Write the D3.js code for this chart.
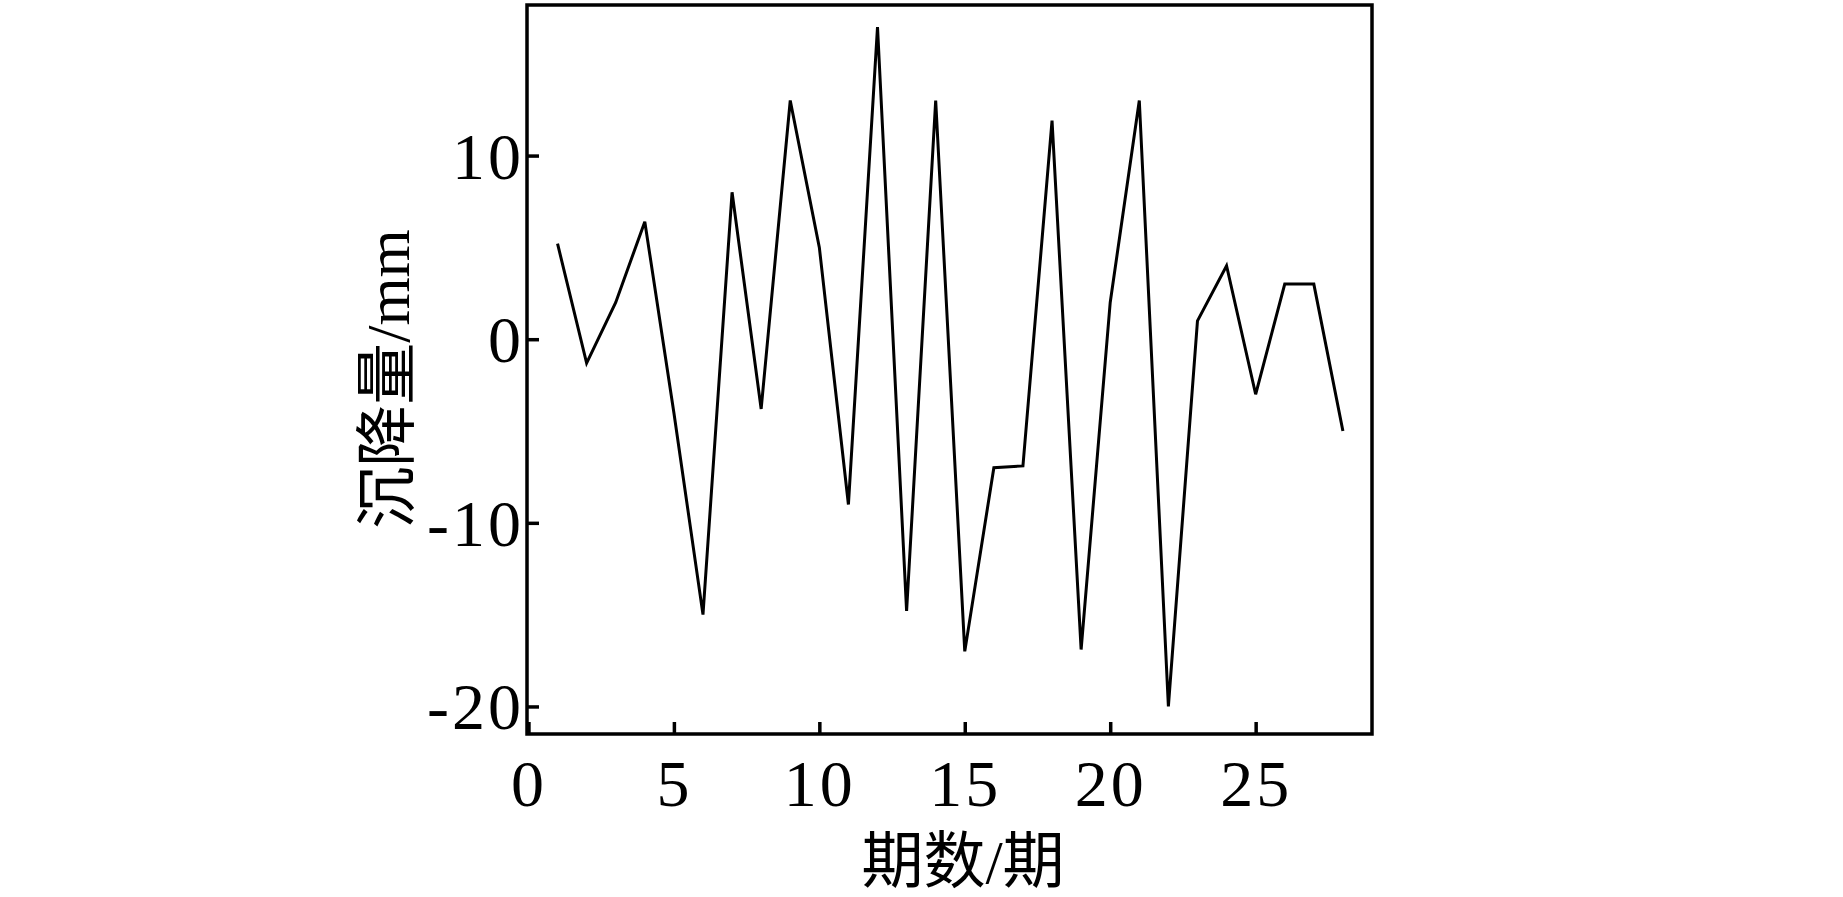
<!DOCTYPE html>
<html>
<head>
<meta charset="utf-8">
<script src="https://cdn.jsdelivr.net/npm/d3@7"></script>
<style>
  body { margin: 0; background: #fff; }
  .tick text { font-family: "Liberation Serif", "Times New Roman", serif; }
  .aTitle { font-family: "Liberation Serif", "Noto Sans CJK SC", serif; }
</style>
</head>
<body>
<div id="chart"></div>
<script>
// Chart values
var periods = [1, 2, 3, 4, 5, 6, 7, 8, 9, 10, 11, 12, 13, 14,
               15, 16, 17, 18, 19, 20, 21, 22, 23, 24, 25, 26, 27, 28];
var settlement = [5.2, -1.3, 2, 6.4, -4, -15, 8, -3.8, 13, 5, -9, 17, -14.8, 13,
                  -17, -7, -6.9, 11.9, -16.9, 2, 13, -20, 1, 4, -3, 3, 3, -5];
var xTicks = [0, 5, 10, 15, 20, 25];
var yTicks = [-20, -10, 0, 10];
var xTitle = "期数/期";
var yTitle = "沉降量/mm";

var width = 1843;
var height = 897;

// plot box
var boxLeft = 527, boxRight = 1372, boxTop = 5, boxBottom = 734;

var svg = d3.select("#chart")
  .append("svg")
  .attr("width", width)
  .attr("height", height);

var xScale = d3.scaleLinear()
  .domain([-0.05, 29])
  .range([boxLeft, boxRight]);

var yScale = d3.scaleLinear()
  .domain([-21.5, 18.2])
  .range([boxBottom, boxTop]);

// frame
svg.append("rect")
  .attr("x", boxLeft)
  .attr("y", boxTop)
  .attr("width", boxRight - boxLeft)
  .attr("height", boxBottom - boxTop)
  .attr("fill", "none")
  .attr("stroke", "#000")
  .attr("stroke-width", 3.5);

// plain hyphen for negatives, like the original
var fmt = function(d) { return String(d); };

var xAxis = d3.axisBottom(xScale)
  .tickValues(xTicks)
  .tickFormat(fmt)
  .tickSizeInner(-12)
  .tickSizeOuter(0)
  .tickPadding(26);

var yAxis = d3.axisLeft(yScale)
  .tickValues(yTicks)
  .tickFormat(fmt)
  .tickSizeInner(-12)
  .tickSizeOuter(0)
  .tickPadding(3);

var gx = svg.append("g")
  .attr("transform", "translate(0," + boxBottom + ")")
  .call(xAxis);

var gy = svg.append("g")
  .attr("transform", "translate(" + boxLeft + ",0)")
  .call(yAxis);

[gx, gy].forEach(function(g) {
  g.select(".domain").remove();
  g.selectAll(".tick line").attr("stroke", "#000").attr("stroke-width", 3.5);
  g.selectAll(".tick text")
    .attr("fill", "#000")
    .attr("font-size", 66)
    .attr("letter-spacing", 3);
});
gx.selectAll(".tick text").attr("dy", "0.70em");
gy.selectAll(".tick text").attr("dy", "0.34em");

// the series line
var line = d3.line()
  .x(function(d, i) { return xScale(periods[i]); })
  .y(function(d) { return yScale(d); });

svg.append("path")
  .datum(settlement)
  .attr("d", line)
  .attr("fill", "none")
  .attr("stroke", "#000")
  .attr("stroke-width", 3)
  .attr("stroke-linejoin", "miter");

// axis titles
svg.append("text")
  .attr("class", "aTitle")
  .attr("x", 963)
  .attr("y", 862)
  .attr("text-anchor", "middle")
  .attr("dominant-baseline", "central")
  .attr("font-size", 62)
  .text(xTitle);

svg.append("text")
  .attr("class", "aTitle")
  .attr("transform", "translate(388,379)rotate(-90)")
  .attr("text-anchor", "middle")
  .attr("dominant-baseline", "central")
  .attr("font-size", 62)
  .text(yTitle);
</script>
</body>
</html>
